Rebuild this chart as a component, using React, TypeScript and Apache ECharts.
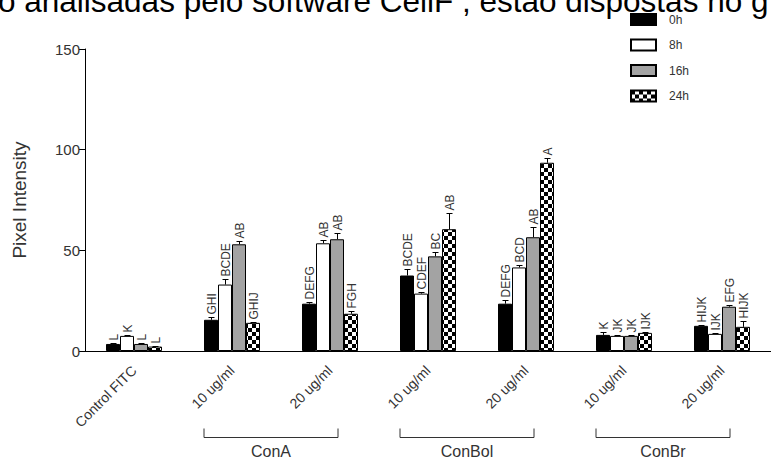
import React, { useEffect, useRef } from "react";
import * as echarts from "echarts";

const categories = ["Control FITC", "10 ug/ml", "20 ug/ml", "10 ug/ml", "20 ug/ml", "10 ug/ml", "20 ug/ml"];
const seriesNames = ["0h", "8h", "16h", "24h"];

const v0h = [3.5, 15.5, 23.5, 37.5, 23.5, 8, 12.5];
const e0h = [0.5, 1.2, 1, 3, 2, 1.5, 0.5];
const v8h = [7.5, 33, 53.5, 28.5, 41.5, 7.5, 8.5];
const e8h = [0.5, 3, 1.5, 1, 1, 0.3, 0.5];
const v16h = [3.5, 53, 55.5, 47, 56.5, 7.5, 22];
const e16h = [0.5, 1.5, 3, 2, 5, 0.5, 1];
const v24h = [2.2, 14, 18.5, 60.5, 93.5, 9, 12];
const e24h = [0.3, 0.3, 1.5, 8, 2.5, 0.5, 3];

const l0h = ["L", "GHI", "DEFG", "BCDE", "DEFG", "K", "HIJK"];
const l8h = ["K", "BCDE", "AB", "CDEF", "BCD", "JK", "IJK"];
const l16h = ["L", "AB", "AB", "BC", "AB", "JK", "EFG"];
const l24h = ["L", "GHIJ", "FGH", "AB", "A", "IJK", "HIJK"];

const groupNames = ["ConA", "ConBol", "ConBr"];
const groupFrom = [1, 3, 5];
const groupTo = [2, 4, 6];

const yTicks = [0, 50, 100, 150];
const headerText = "o analisadas pelo software CellF , estão dispostas no g";

const FONT = "Liberation Sans, Arial, Helvetica, sans-serif";

function checker(): any {
  const c = document.createElement("canvas");
  c.width = 8;
  c.height = 8;
  const ctx = c.getContext("2d")!;
  ctx.fillStyle = "#fff";
  ctx.fillRect(0, 0, 8, 8);
  ctx.fillStyle = "#000";
  ctx.fillRect(0, 0, 4, 4);
  ctx.fillRect(4, 4, 4, 4);
  return { image: c, repeat: "repeat" };
}

export default function App() {
  const ref = useRef<HTMLDivElement>(null);
  useEffect(() => {
    if (!ref.current) return;
    const chart = echarts.init(ref.current, null, { renderer: "svg" });
    const values = [v0h, v8h, v16h, v24h];
    const errs = [e0h, e8h, e16h, e24h];
    const labels = [l0h, l8h, l16h, l24h];
    const fills: any[] = ["#000000", "#ffffff", "#a3a3a3", checker()];
    const BW = 14;

    const bars = seriesNames.map((n, s) => ({
      type: "bar",
      name: n,
      data: values[s],
      barWidth: BW,
      barGap: "0%",
      itemStyle: { color: fills[s], borderColor: "#000", borderWidth: 1 },
      z: 2,
    }));

    const customs = seriesNames.map((n, s) => ({
      type: "custom",
      name: "err" + n,
      coordinateSystem: "cartesian2d",
      clip: false,
      z: 5,
      encode: { x: 0, y: 1 },
      data: values[s].map((v, i) => [i, v, errs[s][i]]),
      renderItem: (params: any, api: any) => {
        const cat = api.value(0);
        const val = api.value(1);
        const err = api.value(2);
        const base = api.coord([cat, val]);
        const top = api.coord([cat, val + err]);
        const x = Math.round(base[0] + (s - 1.5) * BW) + 0.5;
        const ty = Math.round(top[1]) + 0.5;
        return {
          type: "group",
          children: [
            { type: "line", shape: { x1: x, y1: base[1], x2: x, y2: ty }, style: { stroke: "#000", lineWidth: 1 } },
            { type: "line", shape: { x1: x - 3, y1: ty, x2: x + 3, y2: ty }, style: { stroke: "#000", lineWidth: 1 } },
            {
              type: "text",
              x: x,
              y: ty - 3,
              rotation: Math.PI / 2,
              style: {
                text: labels[s][params.dataIndex],
                font: "12px " + FONT,
                fill: "#333",
                align: "left",
                verticalAlign: "middle",
              },
            },
          ],
        };
      },
    }));

    const option: any = {
      animation: false,
      textStyle: { fontFamily: FONT },
      grid: { left: 85, top: 49, bottom: 108, right: -4, containLabel: false },
      legend: {
        data: seriesNames,
        orient: "vertical",
        left: 625,
        top: 8,
        icon: "rect",
        itemWidth: 25,
        itemHeight: 11,
        itemGap: 12.5,
        textStyle: { fontSize: 12, color: "#333", fontFamily: FONT, padding: [0, 0, 0, 8] },
      },
      xAxis: {
        type: "category",
        data: categories,
        axisLine: { lineStyle: { color: "#000", width: 1 } },
        axisTick: { alignWithLabel: true, length: 7, lineStyle: { color: "#000" } },
        axisLabel: { rotate: 45, fontSize: 14, color: "#333", margin: 17, fontFamily: FONT },
      },
      yAxis: {
        type: "value",
        min: 0,
        max: 150,
        interval: 50,
        name: "Pixel Intensity",
        nameLocation: "middle",
        nameGap: 56,
        nameTextStyle: { fontSize: 19, color: "#333", fontFamily: FONT },
        axisLine: { show: true, lineStyle: { color: "#000", width: 1 } },
        axisTick: { show: true, length: 6, lineStyle: { color: "#000" } },
        axisLabel: { fontSize: 15, color: "#333", margin: 5, fontFamily: FONT, formatter: (v: number) => (yTicks.includes(v) ? String(v) : "") },
        splitLine: { show: false },
      },
      series: [...bars, ...customs],
    };
    chart.setOption(option);

    const graphics: any[] = [
      {
        type: "text",
        x: -2,
        y: 17,
        style: { text: headerText, font: "31.5px " + FONT, fill: "#000", align: "left", verticalAlign: "bottom" },
      },
    ];
    groupNames.forEach((g, k) => {
      const x1 = chart.convertToPixel({ xAxisIndex: 0 }, groupFrom[k]) - 28;
      const x2 = chart.convertToPixel({ xAxisIndex: 0 }, groupTo[k]) + 8;
      const y = 437.5;
      graphics.push(
        { type: "line", shape: { x1, y1: y, x2, y2: y }, style: { stroke: "#333", lineWidth: 1 } },
        { type: "line", shape: { x1: x1, y1: y - 9, x2: x1, y2: y }, style: { stroke: "#333", lineWidth: 1 } },
        { type: "line", shape: { x1: x2, y1: y - 9, x2: x2, y2: y }, style: { stroke: "#333", lineWidth: 1 } },
        {
          type: "text",
          x: (x1 + x2) / 2,
          y: 451,
          style: { text: g, font: "16px " + FONT, fill: "#333", align: "center", verticalAlign: "middle" },
        }
      );
    });
    chart.setOption({ graphic: graphics });

    return () => chart.dispose();
  }, []);
  return <div ref={ref} style={{ position: "fixed", left: 0, top: 0, width: 771, height: 459, background: "#fff" }} />;
}
